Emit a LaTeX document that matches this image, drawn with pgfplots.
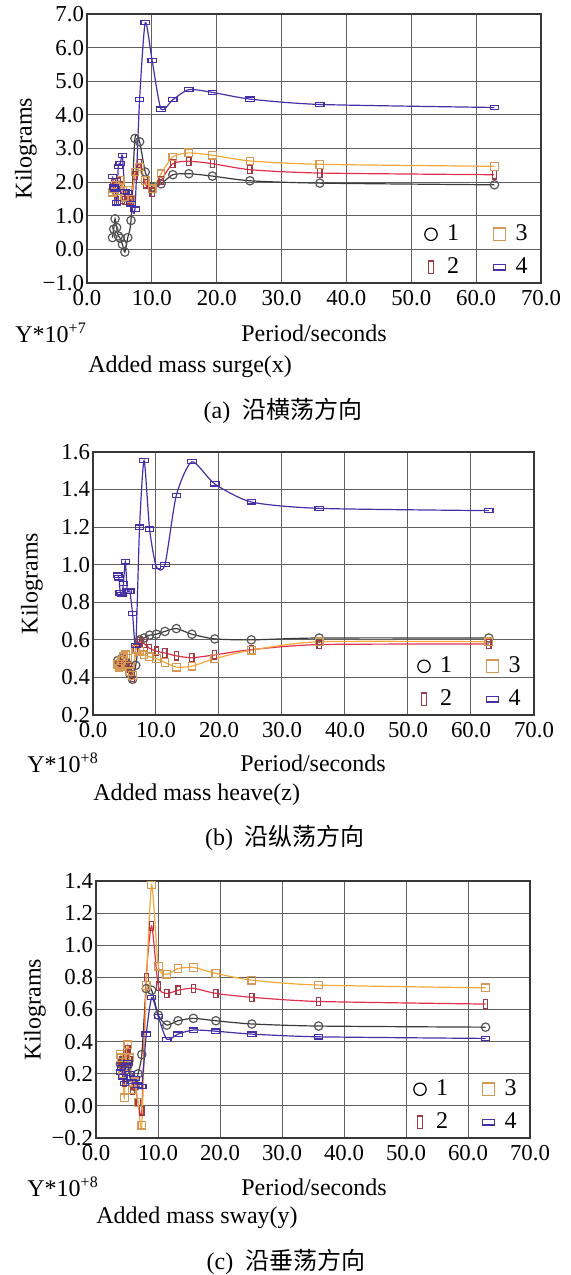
\documentclass[border=0pt]{standalone}
\usepackage{fontspec}
\setmainfont{Liberation Serif}
\newfontfamily\cjk{Noto Sans CJK SC}
\usepackage{pgfplots}
\usepackage{pgfplotstable}
\pgfplotsset{compat=1.18}

\definecolor{sOne}{HTML}{3A3A3A}
\definecolor{sTwo}{HTML}{E0304E}
\definecolor{sTwoM}{HTML}{A03A44}
\definecolor{sThree}{HTML}{F4A93A}
\definecolor{sThreeM}{HTML}{D49A55}
\definecolor{sFour}{HTML}{4232A6}

% period  s1  s2  s3  s4
\pgfplotstableread{
T      a     b     c     d
3.93   0.35  1.85  1.70  2.17
4.12   0.60  1.95  1.80  1.85
4.33   0.91  1.75  1.90  1.80
4.57   0.65  1.45  1.75  1.38
4.83   0.40  2.00  1.85  2.47
5.13   0.33  1.90  2.05  2.55
5.46   0.15  1.50  1.75  2.80
5.84  -0.08  1.45  1.55  1.72
6.28   0.35  1.60  1.75  1.70
6.79   0.86  1.45  1.50  1.35
7.39   3.30  2.20  2.30  1.20
8.11   3.20  2.55  2.45  4.46
8.98   2.30  1.95  2.05  6.74
10.05  1.85  1.70  1.80  5.61
11.42  1.95  2.05  2.25  4.17
13.23  2.22  2.55  2.75  4.45
15.71  2.25  2.62  2.87  4.75
19.33  2.18  2.55  2.80  4.67
25.13  2.04  2.37  2.63  4.47
35.90  1.97  2.27  2.53  4.31
62.83  1.92  2.22  2.47  4.22
}\dataA

\pgfplotstableread{
T      a     b     c     d
3.93   0.49  0.46  0.47  0.945
4.12   0.47  0.46  0.45  0.93
4.33   0.48  0.48  0.46  0.85
4.57   0.50  0.47  0.49  0.84
4.83   0.46  0.50  0.51  0.90
5.13   0.48  0.51  0.52  1.015
5.46   0.47  0.48  0.50  0.86
5.84   0.42  0.45  0.43  0.86
6.28   0.39  0.40  0.41  0.74
6.79   0.465 0.55  0.55  0.57
7.39   0.60  0.59  0.54  1.20
8.11   0.61  0.58  0.52  1.555
8.98   0.625 0.555 0.51  1.19
10.05  0.63  0.54  0.50  0.99
11.42  0.645 0.53  0.48  1.00
13.23  0.66  0.515 0.455 1.37
15.71  0.63  0.505 0.46  1.548
19.33  0.605 0.52  0.50  1.43
25.13  0.60  0.548 0.545 1.334
35.90  0.61  0.575 0.59  1.30
62.83  0.61  0.578 0.59  1.288
}\dataB

\pgfplotstableread{
T      a     b     c     d
3.93   0.26  0.27  0.32  0.21
4.12   0.27  0.28  0.30  0.24
4.33   0.28  0.25  0.20  0.18
4.57   0.28  0.15  0.05  0.14
4.83   0.27  0.33  0.30  0.25
5.13   0.25  0.35  0.38  0.27
5.46   0.18  0.28  0.30  0.20
5.84   0.14  0.10  0.10  0.15
6.28   0.12  0.13  0.15  0.17
6.79   0.20  0.02  0.02  0.13
7.39   0.32 -0.03 -0.12  0.12
8.11   0.73  0.80  0.75  0.447
8.98   0.72  1.12  1.375 0.673
10.05  0.565 0.745 0.87  0.555
11.42  0.503 0.70  0.82  0.415
13.23  0.53  0.72  0.855 0.447
15.71  0.545 0.732 0.862 0.472
19.33  0.53  0.70  0.825 0.465
25.13  0.51  0.676 0.783 0.447
35.90  0.497 0.65  0.752 0.43
62.83  0.49  0.634 0.735 0.42
}\dataC

\pgfplotsset{
  panel/.style={
    scale only axis, anchor=north west,
    xmin=0, xmax=70, xtick={0,10,...,70},
    xticklabels={0.0,10.0,20.0,30.0,40.0,50.0,60.0,70.0},
    grid=major, major grid style={black!62, line width=0.5pt},
    axis line style={black!78, line width=0.75pt},
    major tick length=0pt,
    tick label style={font=\fontsize{11.4}{13}\selectfont},
    yticklabel style={xshift=2pt},
    ylabel={Kilograms},
    every axis y label/.style={at={(axis description cs:0,0.5)}, rotate=90,
      anchor=center, yshift=30.5pt, font=\fontsize{12}{14}\selectfont},
    legend columns=2, transpose legend,
    legend style={at={(1,0)}, anchor=south east, draw=none, fill=none,
      font=\fontsize{12}{14}\selectfont, column sep=3pt, row sep=3pt,
      /tikz/every even column/.append style={column sep=15pt},
      xshift=-1.5pt, yshift=-1pt},
    legend image code/.code={\draw[mark repeat=2,mark phase=2,#1]
      plot coordinates {(0cm,0cm) (0.15cm,0cm) (0.3cm,0cm)};},
    clip=false,
  },
  lnA/.style={sOne, line width=0.6pt, smooth, tension=0.4, mark=o, mark size=2.1pt, mark options={sOne!85, line width=0.6pt}},
  lnB/.style={sTwo, line width=0.6pt, smooth, tension=0.4, mark=square, mark size=2.1pt, mark options={sTwoM, xscale=0.5, line width=0.6pt}},
  lnC/.style={sThree, line width=0.6pt, smooth, tension=0.4, mark=square, mark size=1.9pt, mark options={sThreeM, line width=0.6pt}},
  lnD/.style={sFour, line width=0.6pt, smooth, tension=0.4, mark=square, mark size=2.1pt, mark options={sFour, yscale=0.5, line width=0.6pt}},
}

\newcommand{\legendset}{%
  \addlegendimage{only marks, mark=o, mark size=3.1pt, mark options={black, line width=0.6pt}}
  \addlegendentry{1}
  \addlegendimage{only marks, mark=square, mark size=3.1pt, mark options={sTwoM, xscale=0.45, line width=0.6pt}}
  \addlegendentry{2}
  \addlegendimage{only marks, mark=square, mark size=3.1pt, mark options={sThreeM, line width=0.6pt}}
  \addlegendentry{3}
  \addlegendimage{only marks, mark=square, mark size=3.1pt, mark options={sFour, yscale=0.45, line width=0.6pt}}
  \addlegendentry{4}
}

\begin{document}
\begin{tikzpicture}
\useasboundingbox (0,0) rectangle (285.5pt,-637.5pt);

% (a)
\begin{axis}[panel, at={(43.5pt,-7pt)}, width=227pt, height=134.5pt,
  ymin=-1, ymax=7, ytick={-1,0,...,7},
  yticklabels={−1.0,0.0,1.0,2.0,3.0,4.0,5.0,6.0,7.0}]
\addplot[lnA, forget plot] table[x=T, y=a] {\dataA};
\addplot[lnB, forget plot] table[x=T, y=b] {\dataA};
\addplot[lnC, forget plot] table[x=T, y=c] {\dataA};
\addplot[lnD, forget plot] table[x=T, y=d] {\dataA};
\legendset
\end{axis}

% (b)
\begin{axis}[panel, at={(46.5pt,-226pt)}, width=220.5pt, height=131.5pt,
  ymin=0.2, ymax=1.6, ytick={0.2,0.4,...,1.6},
  yticklabels={0.2,0.4,0.6,0.8,1.0,1.2,1.4,1.6}]
\addplot[lnA, forget plot] table[x=T, y=a] {\dataB};
\addplot[lnB, forget plot] table[x=T, y=b] {\dataB};
\addplot[lnC, forget plot] table[x=T, y=c] {\dataB};
\addplot[lnD, forget plot] table[x=T, y=d] {\dataB};
\legendset
\end{axis}

% (c)
\begin{axis}[panel, at={(48pt,-440.5pt)}, width=217pt, height=128.5pt,
  ymin=-0.2, ymax=1.4, ytick={-0.2,0,...,1.4},
  yticklabels={−0.2,0.0,0.2,0.4,0.6,0.8,1.0,1.2,1.4}]
\addplot[lnA, forget plot] table[x=T, y=a] {\dataC};
\addplot[lnB, forget plot] table[x=T, y=b] {\dataC};
\addplot[lnC, forget plot] table[x=T, y=c] {\dataC};
\addplot[lnD, forget plot] table[x=T, y=d] {\dataC};
\legendset
\end{axis}

\begin{scope}[every node/.style={font=\fontsize{12}{14}\selectfont, inner sep=0pt}]
\node[anchor=west] at (7.5pt,-166.5pt) {Y*10\textsuperscript{+7}};
\node at (157pt,-166.5pt) {Period/seconds};
\node[anchor=west] at (44pt,-183.5pt) {Added mass surge(x)};
\node at (141.5pt,-205.5pt) {(a)\ \ {\cjk 沿横荡方向}};

\node[anchor=west] at (13.5pt,-381.5pt) {Y*10\textsuperscript{+8}};
\node at (156.5pt,-381.5pt) {Period/seconds};
\node[anchor=west] at (46.5pt,-397.5pt) {Added mass heave(z)};
\node at (142.5pt,-419pt) {(b)\ \ {\cjk 沿纵荡方向}};

\node[anchor=west] at (13.5pt,-593.5pt) {Y*10\textsuperscript{+8}};
\node at (157pt,-593.5pt) {Period/seconds};
\node[anchor=west] at (48pt,-609pt) {Added mass sway(y)};
\node at (143pt,-631pt) {(c)\ \ {\cjk 沿垂荡方向}};
\end{scope}
\end{tikzpicture}
\end{document}
